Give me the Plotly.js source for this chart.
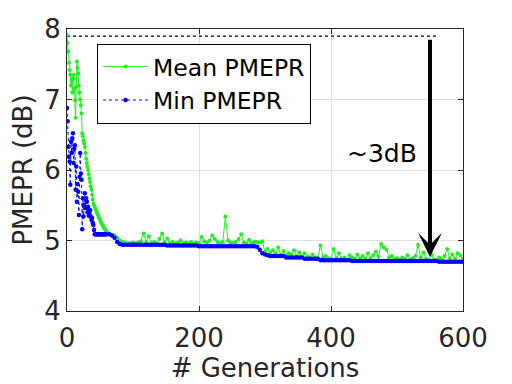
<!DOCTYPE html>
<html>
<head>
<meta charset="utf-8">
<script src="https://cdn.plot.ly/plotly-3.0.1.min.js"></script>
<style>
  body { margin: 0; background: #fff; }
  #chart { width: 512px; height: 384px; }
</style>
</head>
<body>
<div id="chart"></div>
<script>
// Generations 0..59, one value per generation
const meanEarly = [
    7.91, 7.80, 7.68, 7.52, 7.42, 7.35, 7.20, 7.28, 7.10, 7.30,
    7.35, 7.15, 6.99, 6.74, 7.18, 7.54, 7.45, 7.37, 7.20, 7.10,
    7.00, 6.92, 6.80, 6.52, 6.48, 6.42, 6.38, 6.33, 6.24, 6.16,
    6.10, 6.05, 6.00, 5.94, 5.88, 5.83, 5.77, 5.72, 5.65, 5.58,
    5.52, 5.50, 5.48, 5.45, 5.43, 5.40, 5.38, 5.36, 5.33, 5.31,
    5.29, 5.27, 5.25, 5.23, 5.22, 5.20, 5.18, 5.17, 5.15, 5.14
];
const minEarly = [
    6.88, 6.69, 6.33, 6.19, 6.12, 5.79, 6.40, 6.24, 6.45, 6.52,
    6.10, 6.30, 6.35, 5.72, 6.05, 5.55, 5.80, 5.69, 5.36, 5.90,
    6.24, 5.95, 5.86, 5.16, 5.60, 5.34, 5.50, 5.67, 5.46, 5.60,
    5.55, 5.40, 5.48, 5.35, 5.38, 5.43, 5.34, 5.29, 5.32, 5.25,
    5.22, 5.15, 5.09, 5.09, 5.09, 5.09, 5.09, 5.09, 5.09, 5.09,
    5.09, 5.09, 5.09, 5.09, 5.09, 5.09, 5.09, 5.09, 5.09, 5.09
];

// Generations 60..600, every 4th generation
const meanLate = [
    5.12, 5.10, 5.08, 5.07, 5.04, 5.00, 4.98, 4.97, 4.96, 4.96,
    4.97, 4.96, 4.97, 4.99, 5.10, 4.97, 5.06, 4.96, 4.98, 4.96,
    5.02, 5.10, 4.97, 5.03, 4.96, 4.98, 4.96, 4.97, 5.00, 4.96,
    4.97, 4.96, 4.98, 4.96, 4.97, 4.96, 5.05, 4.99, 4.97, 5.00,
    5.07, 5.02, 4.98, 4.96, 4.98, 5.34, 5.00, 4.97, 4.96, 4.98,
    5.02, 5.09, 4.97, 4.96, 5.01, 4.96, 4.98, 4.98, 4.97, 4.99,
    4.84, 4.88, 4.83, 4.86, 4.81, 4.90, 4.80, 4.85, 4.79, 4.82,
    4.80, 4.86, 4.78, 4.83, 4.77, 4.82, 4.77, 4.76, 4.80, 4.76,
    4.75, 4.93, 4.76, 4.78, 4.75, 4.74, 4.88, 4.75, 4.82, 4.74,
    4.76, 4.73, 4.79, 4.76, 4.74, 4.80, 4.75, 4.78, 4.74, 4.82,
    4.75, 4.79, 4.84, 4.77, 4.95, 4.90, 4.87, 4.76, 4.78, 4.74,
    4.75, 4.73, 4.76, 4.74, 4.79, 4.73, 4.75, 4.78, 4.94, 4.76,
    4.83, 4.74, 4.72, 4.80, 4.73, 4.72, 4.76, 4.73, 4.78, 4.88,
    4.75, 4.80, 4.74, 4.82, 4.79, 4.74
];
const minLate = [
    5.09, 5.09, 5.07, 5.04, 4.98, 4.95, 4.94,
    4.94, 4.94, 4.94, 4.94, 4.94, 4.94, 4.94, 4.94, 4.94, 4.94, 4.94, 4.94, 4.94, 4.94, 4.94, 4.94,
    4.93, 4.93, 4.93, 4.93, 4.93, 4.93, 4.93, 4.93, 4.93, 4.93, 4.93, 4.93,
    4.92, 4.92, 4.92, 4.92, 4.92, 4.92, 4.92, 4.92, 4.92, 4.92, 4.92,
    4.92, 4.92, 4.92, 4.92, 4.92, 4.92, 4.92, 4.92, 4.92, 4.92, 4.92,
    4.91, 4.87, 4.82, 4.80, 4.79,
    4.78, 4.78, 4.78, 4.78, 4.78, 4.78,
    4.76, 4.76, 4.76, 4.76, 4.76, 4.76, 4.76,
    4.74, 4.74, 4.74, 4.74, 4.74, 4.74,
    4.72, 4.72, 4.72, 4.72, 4.72, 4.72, 4.72, 4.72, 4.72, 4.72, 4.72, 4.72,
    4.71, 4.71, 4.71, 4.71, 4.71, 4.71, 4.71, 4.71, 4.71, 4.71, 4.71,
    4.71, 4.71, 4.71, 4.71, 4.71, 4.71, 4.71, 4.71, 4.71, 4.71, 4.71,
    4.71, 4.71, 4.71, 4.71, 4.71, 4.71, 4.71, 4.71, 4.71, 4.71, 4.71,
    4.70, 4.70, 4.70, 4.70, 4.70, 4.70, 4.70, 4.70, 4.70, 4.70
];

// dotted reference level and the ~3dB arrow
const refLineX = [0, 562];
const refLineY = [7.9, 7.9];
const arrowX = 550;
const arrowFrom = 7.87;
const arrowTo = 4.77;
const gapLabel = '~3dB';
const gapLabelX = 477;
const gapLabelY = 6.24;

const xTicks = [0, 200, 400, 600];
const yTicks = [4, 5, 6, 7, 8];

const earlyGens = meanEarly.map((_, i) => i);
const lateGens = meanLate.map((_, i) => 60 + 4 * i);
const gens = earlyGens.concat(lateGens);
const meanPmepr = meanEarly.concat(meanLate);
const minPmepr = minEarly.concat(minLate);

const fontFamily = '"DejaVu Sans", sans-serif';
const axisColor = '#262626';

const traces = [
    {
        x: refLineX,
        y: refLineY,
        type: 'scatter',
        mode: 'lines',
        line: { color: 'black', dash: 'dot', width: 1.2 },
        showlegend: false,
        hoverinfo: 'skip'
    },
    {
        x: gens,
        y: meanPmepr,
        type: 'scatter',
        mode: 'lines+markers',
        name: 'Mean PMEPR',
        line: { color: '#22ee22', width: 1 },
        marker: { color: '#22ee22', size: 4 }
    },
    {
        x: gens,
        y: minPmepr,
        type: 'scatter',
        mode: 'lines+markers',
        name: 'Min PMEPR',
        line: { color: '#0000ff', width: 1, dash: 'dot' },
        marker: { color: '#0000ff', size: 4.5 }
    }
];

const layout = {
    width: 512,
    height: 384,
    margin: { l: 67, r: 49, t: 29, b: 73 },
    paper_bgcolor: 'white',
    plot_bgcolor: 'white',
    font: { family: fontFamily, color: axisColor, size: 26 },
    xaxis: {
        range: [0, 600],
        tickvals: xTicks,
        ticks: 'inside',
        ticklen: 5,
        tickcolor: axisColor,
        showline: true,
        mirror: 'ticks',
        linecolor: axisColor,
        linewidth: 1,
        showgrid: true,
        gridcolor: '#e0e0e0',
        zeroline: false,
        ticklabelstandoff: 4,
        tickfont: { size: 26, color: axisColor },
        title: { text: '# Generations', font: { size: 26, color: axisColor }, standoff: 2 }
    },
    yaxis: {
        range: [4, 8],
        tickvals: yTicks,
        ticks: 'inside',
        ticklen: 5,
        tickcolor: axisColor,
        showline: true,
        mirror: 'ticks',
        linecolor: axisColor,
        linewidth: 1,
        showgrid: true,
        gridcolor: '#e0e0e0',
        zeroline: false,
        tickfont: { size: 26, color: axisColor },
        title: { text: 'PMEPR (dB)', font: { size: 26, color: axisColor }, standoff: 4 }
    },
    legend: {
        x: 0.076,
        y: 0.948,
        xanchor: 'left',
        yanchor: 'top',
        bgcolor: 'white',
        bordercolor: 'black',
        borderwidth: 1,
        font: { size: 23.5, color: 'black' },
        itemwidth: 45,
        tracegroupgap: 0
    },
    annotations: [
        {
            x: arrowX,
            y: arrowTo,
            ax: arrowX,
            ay: arrowFrom,
            xref: 'x',
            yref: 'y',
            axref: 'x',
            ayref: 'y',
            text: '',
            showarrow: true,
            arrowhead: 3,
            arrowsize: 1,
            arrowwidth: 4,
            arrowcolor: 'black'
        },
        {
            x: gapLabelX,
            y: gapLabelY,
            xref: 'x',
            yref: 'y',
            text: gapLabel,
            showarrow: false,
            font: { size: 25, color: 'black' }
        }
    ]
};

Plotly.newPlot('chart', traces, layout, { displayModeBar: false, staticPlot: true });
</script>
</body>
</html>
